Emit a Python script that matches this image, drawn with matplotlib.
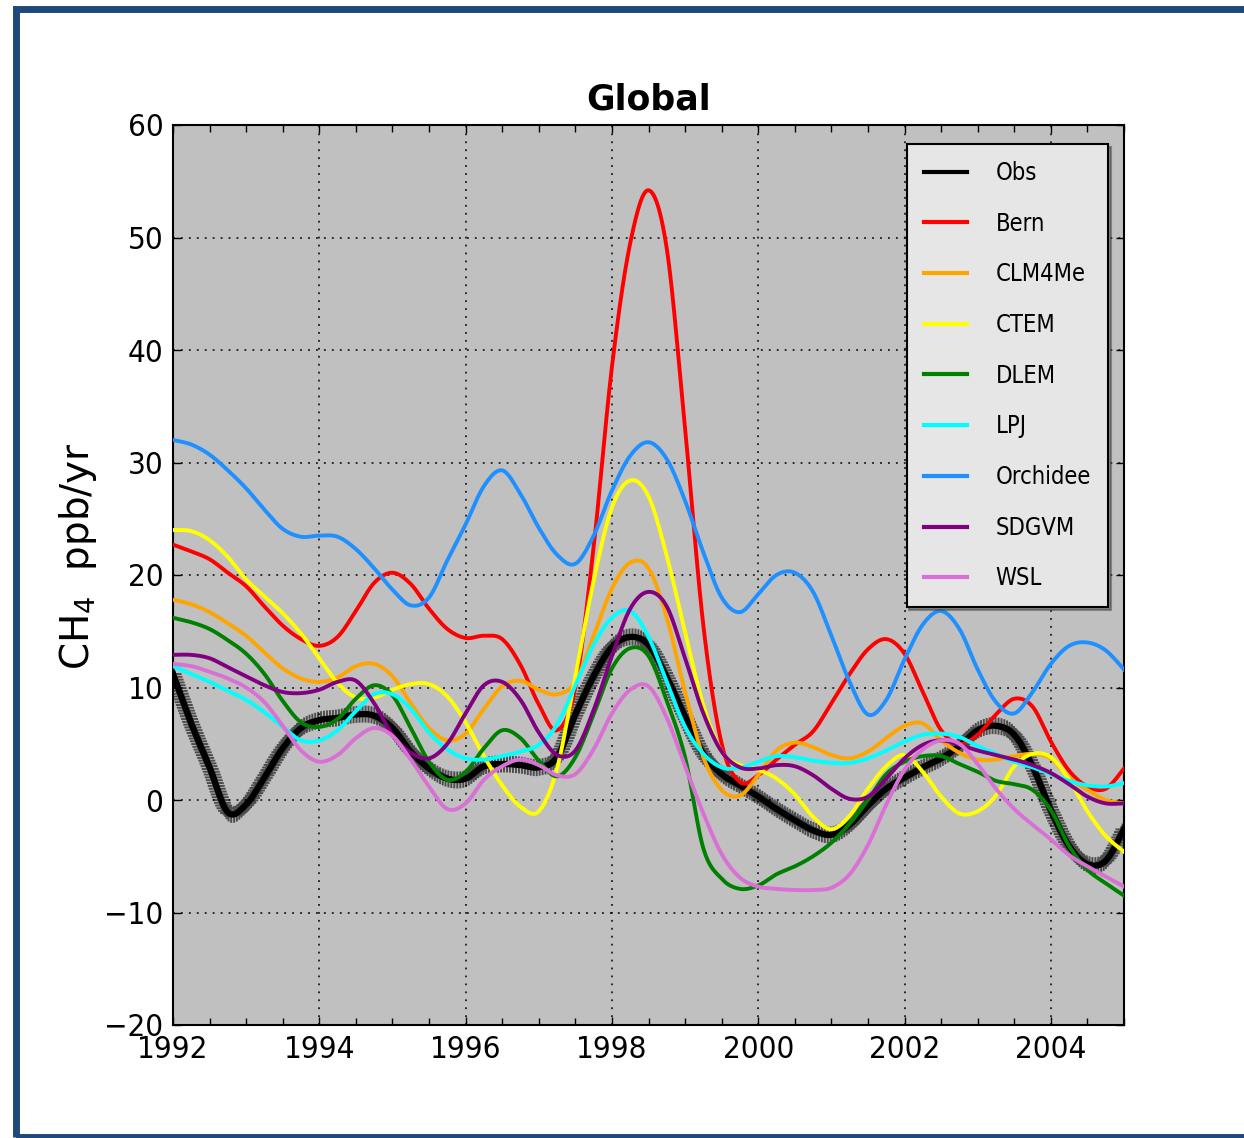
import matplotlib
matplotlib.use("Agg")
import numpy as np
import matplotlib.pyplot as plt
from matplotlib.patheffects import AbstractPathEffect
from matplotlib.path import Path
from matplotlib.transforms import IdentityTransform
from matplotlib.patches import Rectangle
from matplotlib.ticker import MultipleLocator

# ---------------- data (quarter-year steps) ----------------
years = [1992 + 0.25 * i for i in range(53)]

obs = [11.2, 6.8, 2.9, -1.1, -0.4, 2.0, 4.6, 6.4, 7.1, 7.3, 7.6, 7.5, 6.4, 4.3, 2.8, 1.9,
       1.9, 3.0, 3.2, 3.1, 2.9, 3.8, 7.6, 11.0, 13.6, 14.5, 13.8, 10.9, 7.4, 4.1, 2.3, 1.3,
       0.3, -0.8, -1.8, -2.7, -3.1, -2.2, -0.5, 1.0, 2.0, 2.9, 3.7, 4.8, 6.2, 6.6, 5.8, 3.0,
       -0.9, -4.1, -5.7, -5.4, -2.6]
bern = [22.7, 22.1, 21.4, 20.2, 19.0, 17.2, 15.5, 14.3, 13.7, 14.5, 16.8, 19.3, 20.2, 19.2, 17.0, 15.2,
        14.4, 14.6, 14.3, 12.0, 8.5, 6.2, 10.0, 22.5, 38.5, 49.5, 54.2, 49.0, 33.0, 15.5, 5.0, 1.6,
        2.2, 3.6, 4.9, 6.1, 8.6, 11.2, 13.4, 14.3, 13.0, 9.6, 6.2, 5.0, 5.8, 7.6, 9.0, 8.3,
        5.2, 2.6, 1.2, 1.0, 2.8]
clm4me = [17.8, 17.4, 16.7, 15.7, 14.6, 13.1, 11.7, 10.8, 10.5, 10.9, 11.9, 12.1, 11.0, 8.6, 6.4, 5.3,
          5.9, 8.1, 10.1, 10.6, 9.8, 9.4, 10.5, 14.6, 18.8, 21.1, 20.6, 16.2, 9.6, 3.8, 0.9, 0.4,
          2.2, 4.4, 5.1, 4.7, 4.0, 3.7, 4.3, 5.5, 6.6, 6.8, 5.3, 4.2, 3.6, 3.6, 3.9, 4.1,
          3.7, 2.0, 0.9, 0.0, -0.3]
ctem = [24.0, 23.9, 23.1, 21.6, 19.6, 18.1, 16.6, 14.8, 12.6, 10.4, 9.1, 9.1, 9.8, 10.3, 10.3, 9.2,
        6.9, 3.9, 1.3, -0.6, -1.0, 2.8, 11.0, 19.5, 26.0, 28.4, 27.0, 21.7, 14.9, 8.4, 4.3, 3.1,
        2.7, 1.9, 0.5, -1.5, -2.6, -1.4, 1.0, 3.0, 4.0, 2.5, 0.3, -1.2, -1.0, 0.4, 3.0, 4.1,
        3.8, 1.8, -1.0, -3.2, -4.6]
dlem = [16.2, 15.8, 15.2, 14.2, 13.0, 11.2, 8.8, 6.9, 6.5, 7.2, 9.0, 10.2, 9.3, 6.4, 3.4, 1.8,
        2.5, 4.6, 6.2, 5.5, 3.5, 2.1, 3.8, 7.6, 11.7, 13.5, 12.8, 8.8, 3.8, -4.3, -7.0, -7.9,
        -7.6, -6.6, -5.9, -5.0, -3.8, -2.1, 0.0, 2.3, 3.4, 3.9, 3.9, 3.2, 2.5, 1.7, 1.4, 0.9,
        -0.9, -4.1, -6.2, -7.4, -8.5]
lpj = [11.9, 11.2, 10.5, 9.7, 8.9, 7.8, 6.5, 5.3, 5.3, 6.2, 7.9, 9.4, 9.4, 8.1, 6.0, 4.5,
       3.7, 3.6, 3.9, 4.3, 4.9, 6.7, 10.2, 13.8, 16.2, 16.8, 14.5, 10.5, 6.5, 4.1, 2.9, 2.85,
       3.4, 3.9, 3.8, 3.5, 3.3, 3.3, 3.7, 4.4, 5.2, 5.8, 5.9, 5.6, 4.8, 4.1, 3.4, 2.9,
       2.3, 1.7, 1.3, 1.2, 1.5]
orchidee = [32.0, 31.6, 30.7, 29.3, 27.7, 25.8, 24.1, 23.4, 23.5, 23.4, 22.3, 20.6, 18.7, 17.3, 18.0, 21.3,
            24.5, 27.9, 29.3, 27.2, 24.2, 21.8, 21.0, 23.5, 27.5, 30.6, 31.8, 30.3, 26.6, 22.0, 18.0, 16.7,
            18.3, 20.0, 20.2, 18.5, 14.6, 10.5, 7.6, 8.9, 12.5, 15.6, 16.8, 15.2, 11.6, 8.7, 7.7, 9.6,
            12.1, 13.7, 14.0, 13.3, 11.6]
sdgvm = [12.9, 12.9, 12.6, 11.8, 11.0, 10.2, 9.6, 9.5, 9.8, 10.5, 10.6, 8.6, 5.8, 4.2, 3.7, 5.0,
         7.7, 10.2, 10.5, 8.9, 6.0, 4.0, 4.4, 8.0, 12.8, 17.0, 18.5, 17.2, 12.6, 7.7, 4.3, 2.9,
         2.8, 3.1, 3.0, 2.2, 1.0, 0.1, 0.3, 1.9, 3.7, 4.9, 5.3, 4.9, 4.4, 4.0, 3.6, 3.1,
         2.4, 1.4, 0.3, -0.3, -0.3]
wsl = [12.1, 11.9, 11.4, 10.8, 10.0, 8.7, 6.6, 4.4, 3.4, 4.0, 5.5, 6.4, 5.7, 3.6, 1.2, -0.8,
       -0.3, 1.8, 3.0, 3.6, 3.1, 2.2, 2.3, 4.5, 7.7, 9.8, 10.1, 7.3, 3.0, -1.2, -4.8, -6.9,
       -7.7, -7.9, -8.0, -8.0, -7.8, -6.6, -4.0, -0.4, 2.7, 4.5, 5.3, 5.0, 3.2, 1.0, -0.8, -2.2,
       -3.5, -4.9, -5.9, -6.8, -7.7]

model_names = ["Bern", "CLM4Me", "CTEM", "DLEM", "LPJ", "Orchidee", "SDGVM", "WSL"]
model_values = [bern, clm4me, ctem, dlem, lpj, orchidee, sdgvm, wsl]
model_colors = ["red", "orange", "yellow", "green", "cyan", "dodgerblue", "purple", "orchid"]

x_ticks = [1992, 1994, 1996, 1998, 2000, 2002, 2004]
x_tick_labels = ["1992", "1994", "1996", "1998", "2000", "2002", "2004"]
y_ticks = [-20, -10, 0, 10, 20, 30, 40, 50, 60]
y_tick_labels = ["\u221220", "\u221210", "0", "10", "20", "30", "40", "50", "60"]


# ------------- rendering helpers (line styling only; data are drawn as given) -------------
def _smooth_display(v, n=14):
    """Catmull-Rom style rendering of an already-transformed polyline (display coords)."""
    v = np.asarray(v, float)
    if len(v) < 3:
        return v
    P = np.vstack([v[:1], v, v[-1:]])
    t = np.linspace(0.0, 1.0, n + 1)[1:][:, None]
    out = [v[:1]]
    for i in range(1, len(P) - 2):
        p0, p1, p2, p3 = P[i - 1], P[i], P[i + 1], P[i + 2]
        c1 = p1 + (p2 - p0) / 6.0
        c2 = p2 - (p3 - p1) / 6.0
        out.append((1 - t) ** 3 * p1 + 3 * (1 - t) ** 2 * t * c1 + 3 * (1 - t) * t ** 2 * c2 + t ** 3 * p2)
    return np.vstack(out)


class SmoothStroke(AbstractPathEffect):
    def draw_path(self, renderer, gc, tpath, affine, rgbFace=None):
        d = _smooth_display(affine.transform(tpath.vertices))
        renderer.draw_path(gc, Path(d), IdentityTransform())


class PlusAlongPath(AbstractPathEffect):
    def __init__(self, spacing_px=3.0, arm_px=7.5, lw=1.4, color="k", alpha=0.6):
        super().__init__()
        self.spacing = spacing_px
        self.arm = arm_px
        self.lw = lw
        self.color = color
        self.alpha = alpha

    def draw_path(self, renderer, gc, tpath, affine, rgbFace=None):
        v = _smooth_display(affine.transform(tpath.vertices))
        seg = np.diff(v, axis=0)
        cum = np.concatenate([[0.0], np.cumsum(np.hypot(seg[:, 0], seg[:, 1]))])
        s = np.arange(0.0, cum[-1], self.spacing)
        px = np.interp(s, cum, v[:, 0])
        py = np.interp(s, cum, v[:, 1])
        a = self.arm
        verts, codes = [], []
        for x, y in zip(px, py):
            verts += [(x - a, y), (x + a, y), (x, y - a), (x, y + a)]
            codes += [Path.MOVETO, Path.LINETO, Path.MOVETO, Path.LINETO]
        gc0 = renderer.new_gc()
        gc0.copy_properties(gc)
        gc0.set_linewidth(self.lw)
        gc0.set_foreground(self.color)
        gc0.set_alpha(self.alpha)
        renderer.draw_path(gc0, Path(verts, codes), IdentityTransform())
        gc0.restore()
        renderer.draw_path(gc, Path(v), IdentityTransform())


W, H = 1244, 1138
fig = plt.figure(figsize=(W / 100, H / 100), dpi=100)
fig.patch.set_facecolor("white")

ax = fig.add_axes([173 / W, 1 - 1025 / H, (1124 - 173) / W, (1025 - 125) / H])
ax.set_facecolor("#c0c0c0")

obs_line, = ax.plot(years, obs, color="k", lw=4.5, label="Obs", zorder=2)
obs_line.set_path_effects([PlusAlongPath()])
for name, vals, col in zip(model_names, model_values, model_colors):
    ln, = ax.plot(years, vals, color=col, lw=2.8, label=name, zorder=3)
    ln.set_path_effects([SmoothStroke()])

ax.set_xlim(1992, 2005)
ax.set_ylim(-20, 60)
ax.set_xticks(x_ticks)
ax.set_xticklabels(x_tick_labels)
ax.xaxis.set_minor_locator(MultipleLocator(0.5))
ax.set_yticks(y_ticks)
ax.set_yticklabels(y_tick_labels)

ax.tick_params(which="both", direction="in", top=True, right=True, width=1, colors="k")
ax.tick_params(which="major", length=6, labelsize=22.5, pad=7)
ax.tick_params(which="minor", length=5)
for lab in ax.get_xticklabels() + ax.get_yticklabels():
    lab.set_family("DejaVu Sans")
    lab.set_fontstretch("condensed")

ax.grid(True, which="major", color="k", linestyle=(0, (1.2, 4)), linewidth=1.1)
ax.set_axisbelow(True)
for sp in ax.spines.values():
    sp.set_linewidth(1.5)

ax.set_title("Global", fontsize=25, fontweight="bold", family="DejaVu Sans", pad=11)

fig.text(78 / W, 1 - 556 / H, r"CH$_4$  ppb/yr", rotation=90, ha="center", va="center",
         fontsize=28, family="DejaVu Sans")

leg = ax.legend(loc="upper right", bbox_to_anchor=((1108 - 173) / 951, (1025 - 144) / 900),
                borderaxespad=0, prop={"family": "DejaVu Sans", "size": 17, "stretch": "condensed"},
                frameon=True, fancybox=False, shadow=True, handlelength=1.85, handletextpad=1.2,
                labelspacing=1.13, borderpad=0.72)
leg.get_frame().set_facecolor("#e6e6e6")
leg.get_frame().set_edgecolor("k")
leg.get_frame().set_linewidth(1.5)
leg.get_frame().set_alpha(1.0)
for ln in leg.get_lines():
    ln.set_path_effects([])
    ln.set_linewidth(3)

# dark blue slide frame
frame = Rectangle((15.5 / W, 1 - 1136.5 / H), 1.2, (1136.5 - 8.5) / H, transform=fig.transFigure,
                  fill=False, edgecolor="#1F497D", linewidth=5, clip_on=False)
fig.add_artist(frame)

fig.savefig("out.png", dpi=100, facecolor="white")
